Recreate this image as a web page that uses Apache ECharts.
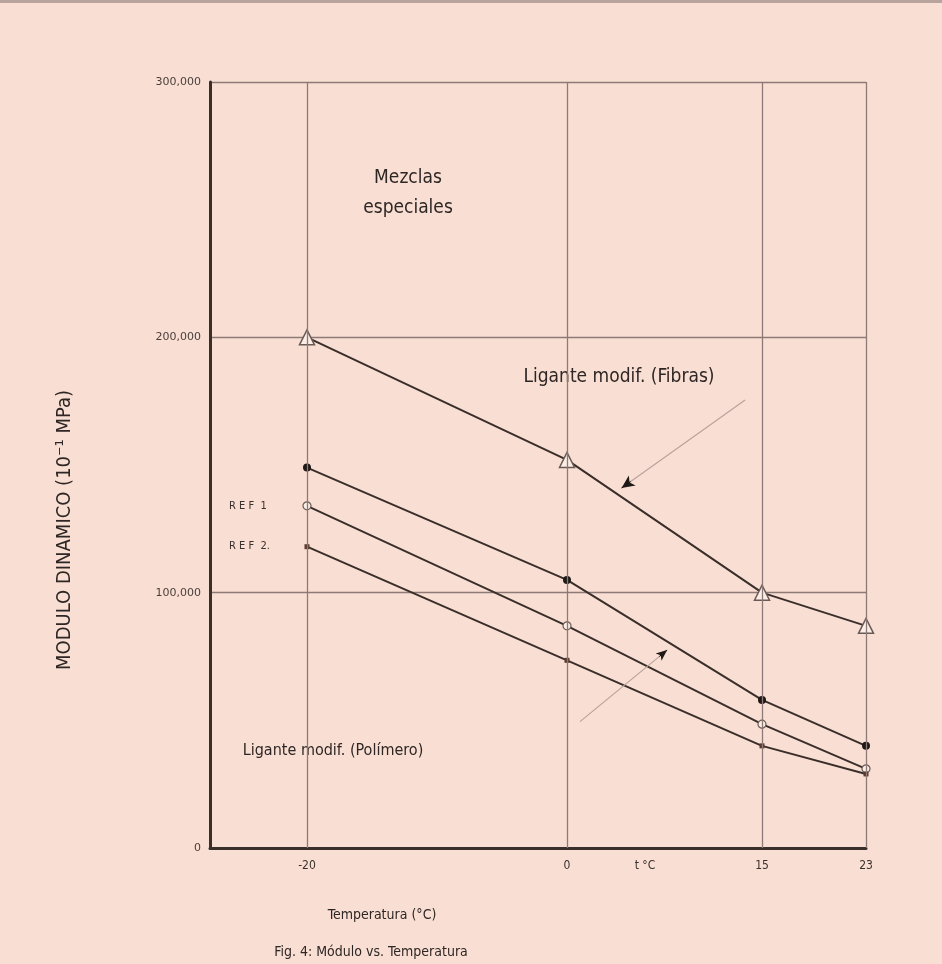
<!DOCTYPE html>
<html>
<head>
<meta charset="utf-8">
<script src="https://cdn.jsdelivr.net/npm/echarts@6/dist/echarts.min.js"></script>
<style>
html,body{margin:0;padding:0;background:#f9dfd3;}
#c{width:942px;height:964px;}
</style>
</head>
<body>
<div id="c"></div>
<script>
var temps = [-20, 0, 15, 23];
var fibras = [200000, 152000, 100000, 87000];
var polimero = [149000, 105000, 58000, 40000];
var ref1 = [134000, 87000, 48500, 31000];
var ref2 = [118000, 73500, 40000, 29000];
var xTickValues = [-20, 0, 6, 15, 23];
var xTickLabels = {'-20': '-20', '0': '0', '6': 't °C', '15': '15', '23': '23'};
var yTickLabels = ['0', '100,000', '200,000', '300,000'];

var FONT = '"DejaVu Sans Condensed", "Liberation Sans Narrow", "Liberation Sans", sans-serif';
var INK = '#3a2e2b';
var GRID = '#8d7975';

function pairs(ys){ return temps.map(function(t,i){ return [t, ys[i]]; }); }

var chart = echarts.init(document.getElementById('c'));
var lineBase = {type:'line', lineStyle:{color:INK, width:2}, itemStyle:{color:INK}, z:3, animation:false};

chart.setOption({
  backgroundColor:'#f9dfd3',
  animation:false,
  grid:{left:210, top:82, right:76, bottom:116, containLabel:false},
  xAxis:{
    type:'value', min:-27.46, max:23,
    axisLine:{show:true, onZero:false, lineStyle:{color:INK, width:3}},
    axisTick:{show:false},
    splitLine:{show:false},
    axisLabel:{customValues:xTickValues, color:'#3a302d', fontFamily:FONT, fontSize:12, margin:12,
      formatter:function(v){ return xTickLabels[String(v)] || ''; }}
  },
  yAxis:{
    type:'value', min:0, max:300000, interval:100000,
    axisLine:{show:true, onZero:false, lineStyle:{color:INK, width:3}},
    axisTick:{show:false},
    splitLine:{show:true, lineStyle:{color:GRID, width:1.3}},
    axisLabel:{color:'#4a3e3a', fontFamily:'"DejaVu Sans", sans-serif', fontSize:11, margin:9,
      formatter:function(v){ return yTickLabels[Math.round(v/100000)]; }}
  },
  series:[
    Object.assign({}, lineBase, {
      name:'Fibras', data:pairs(fibras), symbol:'triangle', symbolSize:15,
      itemStyle:{color:'#fbeee6', borderColor:'#6a5a56', borderWidth:1.5},
      markLine:{
        silent:true, symbol:['none','none'], label:{show:false},
        lineStyle:{color:GRID, width:1.3, type:'solid'},
        data:[
          {xAxis:-20},{xAxis:0},{xAxis:15},{xAxis:23}
        ]
      }
    }),
    Object.assign({}, lineBase, {
      name:'Polímero', data:pairs(polimero), symbol:'circle', symbolSize:8,
      itemStyle:{color:'#1e1816'},
      markLine:{
        silent:true, symbol:['none','none'], label:{show:false},
        lineStyle:{color:'#b9a39c', width:1.2, type:'solid'},
        data:[
          [{coord:[13.7,175500]},{coord:[4.2,141000]}],
          [{coord:[1.0,49500]},{coord:[7.7,77500]}],
          [{coord:[4.9,143500], lineStyle:{color:'#1e1816', width:1}, symbol:'none'},
           {coord:[4.2,141000], symbol:'arrow', symbolSize:[9,13]}],
          [{coord:[7.1,75000], lineStyle:{color:'#1e1816', width:1}, symbol:'none'},
           {coord:[7.7,77500], symbol:'arrow', symbolSize:[7,11]}]
        ]
      }
    }),
    Object.assign({}, lineBase, {
      name:'REF 1', data:pairs(ref1), symbol:'circle', symbolSize:8,
      itemStyle:{color:'#fbeee6', borderColor:'#6a5a56', borderWidth:1.2}
    }),
    Object.assign({}, lineBase, {
      name:'REF 2', data:pairs(ref2), symbol:'rect', symbolSize:5,
      itemStyle:{color:'#5a3a30'}
    })
  ],
  graphic:[
    {type:'rect', left:0, top:0, shape:{width:942, height:3}, style:{fill:'#b8a49d'}, silent:true},
    {type:'text', x:408, y:178, style:{text:'Mezclas', font:'19px '+FONT, fill:'#2e2624', align:'center', verticalAlign:'middle'}},
    {type:'text', x:408, y:208, style:{text:'especiales', font:'19px '+FONT, fill:'#2e2624', align:'center', verticalAlign:'middle'}},
    {type:'text', x:619, y:377, style:{text:'Ligante modif. (Fibras)', font:'19px '+FONT, fill:'#2e2624', align:'center', verticalAlign:'middle'}},
    {type:'text', x:229, y:506, style:{text:'R E F  1', font:'11px '+FONT, fill:'#3a302d', align:'left', verticalAlign:'middle'}},
    {type:'text', x:229, y:546, style:{text:'R E F  2.', font:'11px '+FONT, fill:'#3a302d', align:'left', verticalAlign:'middle'}},
    {type:'text', x:333, y:751, style:{text:'Ligante modif. (Polímero)', font:'16px '+FONT, fill:'#2e2624', align:'center', verticalAlign:'middle'}},
    {type:'text', x:382, y:915, style:{text:'Temperatura (°C)', font:'14px '+FONT, fill:'#2e2624', align:'center', verticalAlign:'middle'}},
    {type:'text', x:371, y:952, style:{text:'Fig. 4: Módulo vs. Temperatura', font:'14px '+FONT, fill:'#2e2624', align:'center', verticalAlign:'middle'}},
    {type:'text', x:65, y:530, rotation:Math.PI/2, style:{text:'MODULO DINAMICO (10⁻¹ MPa)', font:'20px '+FONT, fill:'#2e2624', align:'center', verticalAlign:'middle'}}
  ]
});
</script>
</body>
</html>
